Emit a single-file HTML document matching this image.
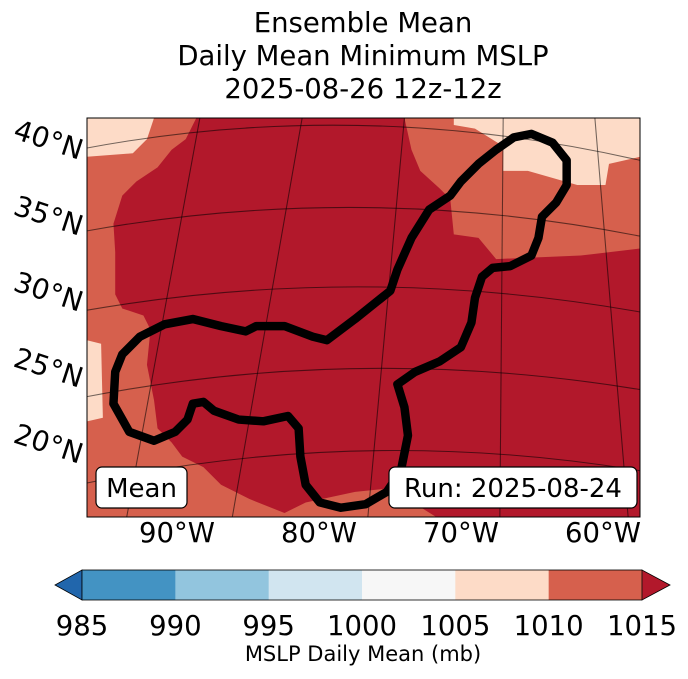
<!DOCTYPE html>
<html><head><meta charset="utf-8"><style>
body{margin:0;background:#fff;width:688px;height:674px;overflow:hidden;font-family:"Liberation Sans","DejaVu Sans",sans-serif}
</style></head><body>
<svg width="688" height="674" viewBox="0 0 688 674" xmlns="http://www.w3.org/2000/svg">
<g font-family="DejaVu Sans, Liberation Sans, sans-serif" fill="#000" text-anchor="middle" font-size="27.5">
<text x="363" y="32">Ensemble Mean</text>
<text x="363" y="65">Daily Mean Minimum MSLP</text>
<text x="363" y="98">2025-08-26 12z-12z</text>
</g>
<defs><clipPath id="mc"><rect x="87" y="118" width="553" height="399"/></clipPath></defs>
<g clip-path="url(#mc)">
<rect x="87" y="118" width="553" height="399" fill="#d6604d"/>
<g transform="translate(87,118) scale(0.3527)">
<path fill="#fddbc7" d="M0,0 L190,0 170,60 130,100 0,110Z"/>
<path fill="#fddbc7" d="M1040,0 L1568,0 1568,110 1480,130 1470,190 1390,190 1250,150 1180,150 1180,80 1100,30 1040,20Z"/>
<path fill="#fddbc7" d="M0,630 L40,640 45,850 0,860Z"/>
<path fill="#b2182b" d="M310,0 L900,0 920,90 945,150 1000,200 1030,230 1040,330 1110,340 1160,400 1400,390 1568,370 1568,1200 1100,1200 860,1050 760,1060 620,1090 560,1120 460,1080 380,1040 330,990 270,960 240,920 200,880 190,800 170,700 180,600 160,560 100,540 80,500 80,380 75,300 100,220 140,180 200,140 240,90 280,60 300,20Z"/>
<g fill="none" stroke="#000" stroke-opacity="0.55" stroke-width="3">
<path d="M0,85 Q780,-60 1568,120"/>
<path d="M0,320 Q780,180 1568,335"/>
<path d="M0,545 Q780,410 1568,550"/>
<path d="M0,790 Q780,640 1568,770"/>
<path d="M0,1035 Q780,870 1568,1000"/>
<path d="M320,0 L100,1200"/>
<path d="M610,0 L400,1200"/>
<path d="M900,0 L790,1200"/>
<path d="M1180,0 L1170,1200"/>
<path d="M1440,0 L1540,1200"/>
</g>
<path fill="none" stroke="#000" stroke-width="24" stroke-linejoin="round" d="M680,630 L760,570 860,490 880,430 920,340 970,260 1030,220 1060,180 1110,130 1160,90 1210,55 1260,45 1320,70 1360,120 1360,190 1330,240 1290,280 1280,340 1260,390 1200,420 1150,425 1120,450 1100,510 1090,580 1060,650 1000,690 930,720 880,755 900,820 910,900 890,1000 850,1060 790,1095 720,1105 660,1090 620,1040 605,960 600,880 570,845 500,860 430,855 360,830 330,805 300,810 285,855 250,890 190,915 120,890 75,810 80,720 100,670 150,620 220,585 300,570 380,590 450,605 480,590 560,590 640,620Z"/>
</g>
</g>
<rect x="87" y="118" width="553" height="399" fill="none" stroke="#000" stroke-width="1"/>
<g>
<rect x="96" y="467" width="91" height="41" rx="6" fill="#fff" stroke="#000" stroke-width="1.2"/>
<text x="141.5" y="497" font-size="26" text-anchor="middle" font-family="DejaVu Sans, sans-serif">Mean</text>
</g>
<g>
<rect x="389" y="467" width="248" height="41" rx="6" fill="#fff" stroke="#000" stroke-width="1.2"/>
<text x="513" y="497" font-size="26" text-anchor="middle" font-family="DejaVu Sans, sans-serif">Run: 2025-08-24</text>
</g>
<g font-size="28" font-family="DejaVu Sans, sans-serif">
<text transform="translate(12,138) rotate(18)">40°N</text>
<text transform="translate(12,214) rotate(18)">35°N</text>
<text transform="translate(12,290) rotate(18)">30°N</text>
<text transform="translate(12,366) rotate(18)">25°N</text>
<text transform="translate(12,442) rotate(18)">20°N</text>
</g>
<g font-size="27.5" font-family="DejaVu Sans, sans-serif" text-anchor="middle">
<text x="177" y="542">90°W</text><text x="319" y="542">80°W</text><text x="461" y="542">70°W</text><text x="603" y="542">60°W</text>
</g>
<g id="cbar"></g>
<text x="363" y="661" font-size="21" text-anchor="middle" font-family="DejaVu Sans, sans-serif">MSLP Daily Mean (mb)</text>
</svg>
<script>
const levels=[985,990,995,1000,1005,1010,1015];
const colors=['#4393c3','#92c5de','#d1e5f0','#f7f7f7','#fddbc7','#d6604d'];
const underColor='#2166ac', overColor='#b2182b';
const ns='http://www.w3.org/2000/svg', g=document.getElementById('cbar');
const x0=82,x1=642,y0=570,h=30;
const sx=v=>x0+(v-levels[0])/(levels[levels.length-1]-levels[0])*(x1-x0);
function mk(t,a){const e=document.createElementNS(ns,t);for(const k in a)e.setAttribute(k,a[k]);g.appendChild(e);return e;}
let p=mk('polygon',{points:`${x0},${y0} ${x0},${y0+h} 55,${y0+h/2}`,fill:underColor,stroke:'#000','stroke-width':0.8});


p=mk('polygon',{points:`${x1},${y0} ${x1},${y0+h} 670,${y0+h/2}`,fill:overColor,stroke:'#000','stroke-width':0.8});


for(let i=0;i<colors.length;i++){
 const r=mk('rect',{x:sx(levels[i]),y:y0,width:sx(levels[i+1])-sx(levels[i])+0.5,height:h,fill:colors[i]});
 
 
}
const fr=mk('rect',{x:x0,y:y0,width:x1-x0,height:h,fill:'none',stroke:'#000','stroke-width':0.8});


levels.forEach(v=>{
 const t=mk('text',{x:sx(v),y:635,'font-size':27.5,'text-anchor':'middle','font-family':'DejaVu Sans, sans-serif'});
 t.textContent=v;
 
 
});
</script>
</body></html>
